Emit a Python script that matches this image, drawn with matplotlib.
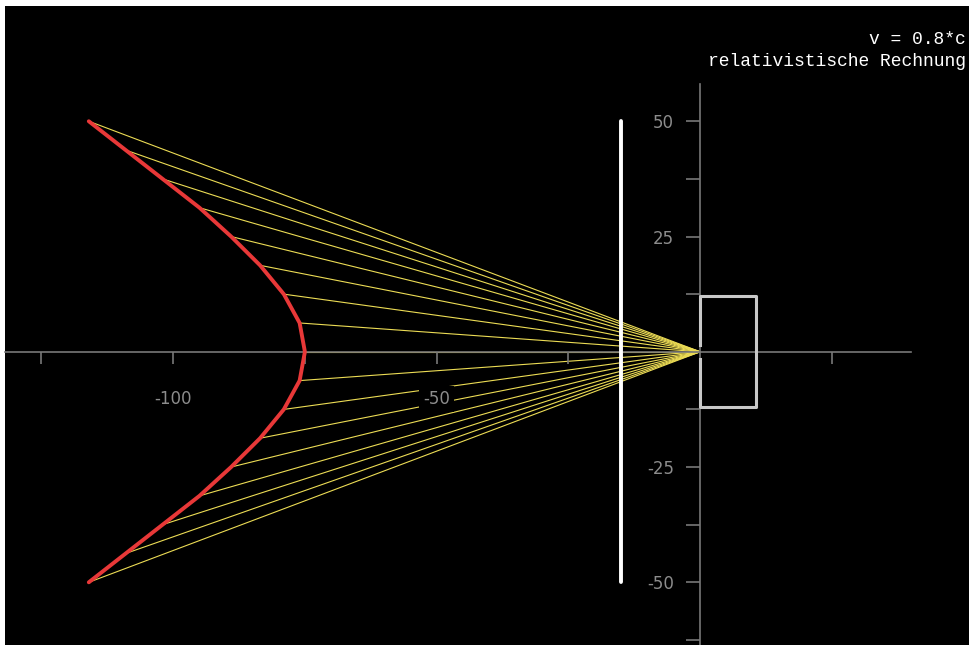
import matplotlib.pyplot as plt

# Stab (weiss) bei x = -15, scheinbare Lage (rot), Kamera im Ursprung
rod_x = [-15, -15]
rod_y = [-50, 50]
img_y = [50, 43.75, 37.5, 31.25, 25, 18.75, 12.5, 6.25, 0,
         -6.25, -12.5, -18.75, -25, -31.25, -37.5, -43.75, -50]
img_x = [-116, -109, -102, -95, -89, -83.5, -79, -76, -75,
         -76, -79, -83.5, -89, -95, -102, -109, -116]
cam_x = [0, 0, 10.5, 10.5, 0, 0]
cam_y = [1.5, 12, 12, -12, -12, -1.5]

xticks = [-125, -100, -75, -50, -25, 25]
xlabels = ['', '-100', '', '-50', '', '']
yticks = [-62.5, -50, -37.5, -25, -12.5, 12.5, 25, 37.5, 50]
ylabels = ['', '-50', '', '-25', '', '', '25', '', '50']

grau = '#787878'

fig = plt.figure(figsize=(9.69, 6.45), dpi=100, facecolor='white')
ax = fig.add_axes([5 / 969, 0, 964 / 969, 639 / 645])
ax.set_facecolor('black')
ax.set_xlim(-131.9, 51.0)
ax.set_ylim(-63.6, 75.0)

# Lichtstrahlen zur Kamera
for x, y in zip(img_x, img_y):
    ax.plot([x, 0], [y, 0], color='#ecdc55', lw=0.8, zorder=1.5)

ax.plot(img_x, img_y, color='#e83838', lw=2.8, zorder=3,
        solid_capstyle='round', solid_joinstyle='round')
ax.plot(rod_x, rod_y, color='white', lw=2.8, zorder=4, solid_capstyle='round')
ax.plot(cam_x, cam_y, color='#c8c8c8', lw=2.2, zorder=3)

# Achsen durch den Ursprung
for s in ['top', 'right']:
    ax.spines[s].set_visible(False)
ax.spines['left'].set_position(('data', 0))
ax.spines['bottom'].set_position(('data', 0))
ax.spines['left'].set_bounds(-63.6, 58)
ax.spines['bottom'].set_bounds(-131.9, 40)
for s in ['left', 'bottom']:
    ax.spines[s].set_color(grau)
    ax.spines[s].set_linewidth(1.2)

ax.set_xticks(xticks, xlabels)
ax.set_yticks(yticks, ylabels)
ax.tick_params(axis='x', direction='out', length=8.5, width=1.2, color=grau,
               pad=19, labelsize=12, labelcolor='#8c8c8c')
ax.tick_params(axis='y', direction='out', length=10, width=1.2, color=grau,
               pad=9, labelsize=12, labelcolor='#8c8c8c')
for lbl in ax.get_xticklabels() + ax.get_yticklabels():
    lbl.set_bbox(dict(facecolor='black', edgecolor='none', pad=3))

fig.text(966 / 969, 1 - 40 / 645, 'v = 0.8*c', ha='right', va='center',
         family='Liberation Mono', size=13, color='white')
fig.text(966 / 969, 1 - 62 / 645, 'relativistische Rechnung', ha='right', va='center',
         family='Liberation Mono', size=13, color='white')

fig.savefig('out.png', dpi=100, facecolor='white')
